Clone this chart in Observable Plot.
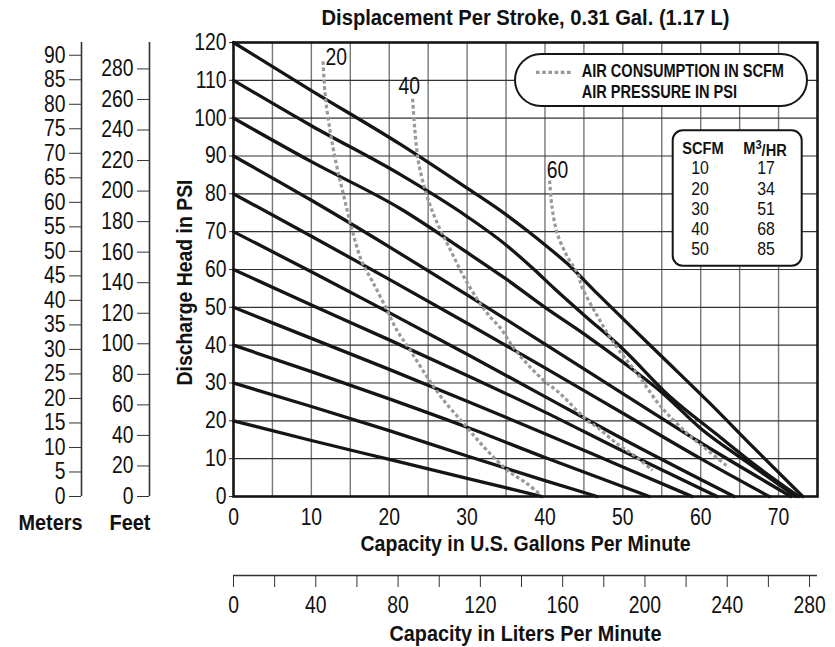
<!DOCTYPE html>
<html><head><meta charset="utf-8">
<script src="https://cdn.jsdelivr.net/npm/d3@7"></script>
<script src="https://cdn.jsdelivr.net/npm/@observablehq/plot@0.6"></script>
<style>
body{margin:0;background:#fff;}
#wrap{position:relative;width:835px;height:647px;overflow:hidden;background:#fff;}
#wrap svg{position:absolute;left:0;top:0;}
</style></head>
<body><div id="wrap"></div>
<script>
const FONT = "'Liberation Sans', Arial, sans-serif";

// Pump performance lines: [gpm, psi] per air pressure (psi)
const pressures = [20, 30, 40, 50, 60, 70, 80, 90, 100, 110, 120];
const head20  = [[0,20],[10,14.8],[20,9.8],[30,4.8],[39.6,0]];
const head30  = [[0,30],[10,23.8],[20,17.4],[30,10.7],[40,4.2],[46.7,0]];
const head40  = [[0,40],[10,33],[20,25.8],[30,18.3],[40,10.3],[53.4,0]];
const head50  = [[0,50],[10,41.8],[20,33.6],[30,25.2],[40,16.6],[50,7.8],[58.9,0]];
const head60  = [[0,60],[10,50.6],[20,41.4],[30,32],[40,22.3],[50,12],[62.1,0]];
const head70  = [[0,70],[10,59.4],[20,48.6],[30,37.6],[40,26.4],[50,15.2],[64.3,0]];
const head80  = [[0,80],[10,68.8],[20,57.4],[30,45.8],[40,34],[50,22],[60,10],[68.8,0]];
const head90  = [[0,90],[10,78.3],[20,66],[30,53.3],[40,40.3],[50,27.2],[60,14.2],[71.6,0]];
const head100 = [[0,100],[10,88.5],[21.5,76],[30,64.5],[35,57.5],[40,50],[45,43],[50,35.5],[55,27.5],[60,18],[66,9],[72.2,0]];
const head110 = [[0,110],[10,98],[21.5,85],[30,74],[35,66.5],[38.6,60],[41.2,55],[45,48],[50,39],[56,26.5],[62,16.5],[67,8.3],[72.6,0]];
const head120 = [[0,120],[10,107.3],[21.5,93],[30,81.5],[35,74.5],[37.7,70.3],[40.3,66],[42.9,61.5],[46.3,54.5],[50,47],[55,37],[61,25],[67,12.5],[73.1,0]];
const heads = [head20, head30, head40, head50, head60, head70, head80, head90, head100, head110, head120];

// Air consumption curves (SCFM): [gpm, psi]
const airLevels = ["20", "40", "60"];
const air20 = [[11.5,115],[11.8,105.6],[12.4,96.7],[13.2,87.9],[14.2,79.1],[15.25,70.3],[16.5,62],[17.8,57],[19.3,51],[21,43.9],[22.7,38.6],[24.9,31.5],[27,25.4],[29.6,19.2],[32.2,13],[35.2,6.9],[37.7,3.4],[39.4,0.5]];
const air40 = [[23,105.1],[23.3,96.7],[23.8,87.9],[24.9,79.1],[26.2,72.1],[27.9,65],[29.6,58],[31.7,50.9],[33,47.4],[34.3,44.5],[35.6,40.4],[37.3,36],[39.4,31.5],[42,27.1],[44.2,22.5],[45.6,19.8],[46.7,18.3],[49.3,13.9],[51.9,10.2],[53.8,6.9]];
const air60 = [[40.6,83.5],[40.9,76.5],[41.6,69.4],[42.9,63.3],[44.2,58.9],[44.8,55.1],[46.7,47.8],[48.2,42.6],[49.7,38.1],[51.7,32.9],[54.4,25],[55.7,21.9],[58.3,16.6],[60.9,12.2],[63.6,7.7]];
const airs = [air20, air40, air60];

// Axes ticks
const gpmTicks = [0, 10, 20, 30, 40, 50, 60, 70];
const gpmGrid = [5, 10, 15, 20, 25, 30, 35, 40, 45, 50, 55, 60, 65, 70];
const psiTicks = [0, 10, 20, 30, 40, 50, 60, 70, 80, 90, 100, 110, 120];
const meterTicks = [0,5,10,15,20,25,30,35,40,45,50,55,60,65,70,75,80,85,90];
const feetTicks = [0,20,40,60,80,100,120,140,160,180,200,220,240,260,280];
const literTicks = [0,20,40,60,80,100,120,140,160,180,200,220,240,260,280];

// Conversion table
const scfmVals = [10, 20, 30, 40, 50];
const m3hrVals = [17, 34, 51, 68, 85];

// Texts
const TITLE = "Displacement Per Stroke, 0.31 Gal. (1.17 L)";
const XTITLE = "Capacity in U.S. Gallons Per Minute";
const YTITLE = "Discharge Head in PSI";
const LTITLE = "Capacity in Liters Per Minute";
const LEG1 = "AIR CONSUMPTION IN SCFM";
const LEG2 = "AIR PRESSURE IN PSI";

// target printed widths of the condensed bold texts
const textWidths = {[TITLE]: 408, [XTITLE]: 330, [YTITLE]: 206, [LTITLE]: 272, "Meters": 64, "Feet": 41};
const CONDENSE = 0.84;

const pumpRows = heads.flatMap((h, i) => h.map(([g, p]) => ({gpm: g, psi: p, air: pressures[i]})));
const airRows = airs.flatMap((a, i) => a.map(([g, p]) => ({gpm: g, psi: p, scfm: airLevels[i]})));

const wrap = document.getElementById("wrap");
const textStyle = {fontFamily: FONT, fontSize: "23px", color: "#111", background: "none", overflow: "visible"};

function condense(svg) {
  svg.querySelectorAll("text").forEach(t => {
    const s = t.textContent;
    const w = t.getComputedTextLength();
    if (!(w > 0)) return;
    const target = textWidths[s] != null ? textWidths[s] : w * CONDENSE;
    t.setAttribute("textLength", target);
    t.setAttribute("lengthAdjust", "spacingAndGlyphs");
  });
}

const airLabelOffsets = [[2.5, -4], [-14, -12], [-3, -10]];
const bold = {fontWeight: "bold", fontSize: 22, lineAnchor: "middle"};

const main = Plot.plot({
  width: 835, height: 647,
  marginLeft: 233, marginRight: 18, marginTop: 42, marginBottom: 151,
  style: textStyle,
  x: {domain: [0, 75]},
  y: {domain: [0, 120]},
  marks: [
    Plot.gridX(gpmGrid, {stroke: "#777", strokeOpacity: 1, strokeWidth: 1.4}),
    Plot.gridY(psiTicks.slice(1, -1), {stroke: "#333", strokeOpacity: 1, strokeWidth: 1.2}),
    Plot.axisY(psiTicks, {tickSize: 4, tickPadding: 3, label: null, stroke: "#333", fontSize: 23}),
    Plot.axisX(gpmTicks, {tickSize: 0, tickPadding: 12, label: null, fontSize: 23}),
    Plot.line(pumpRows, {x: "gpm", y: "psi", z: "air", stroke: "#151515", strokeWidth: 3.3, curve: "monotone-x"}),
    Plot.line(airRows, {x: "gpm", y: "psi", z: "scfm", stroke: "#999", strokeWidth: 3.2, strokeDasharray: "3.6,2.6", strokeLinecap: "butt", curve: "catmull-rom"}),
    Plot.frame({stroke: "#151515", strokeWidth: 2.6}),
    ...airs.map((a, i) => Plot.text([a[0]], {x: d => d[0], y: d => d[1], text: () => airLevels[i], textAnchor: "start", dx: airLabelOffsets[i][0], dy: airLabelOffsets[i][1], fontSize: 23})),
    Plot.text([TITLE], {frameAnchor: "top", dy: -25, ...bold}),
    Plot.text([XTITLE], {frameAnchor: "bottom", dy: 47.5, ...bold}),
    Plot.text([YTITLE], {frameAnchor: "left", dx: -49, dy: 13, rotate: -90, textAnchor: "middle", ...bold})
  ]
});
wrap.appendChild(main);
condense(main);

function sideAxis(ticks, top, lineX, label) {
  const svg = Plot.plot({
    width: lineX + 3, height: 647,
    marginLeft: lineX, marginRight: 3, marginTop: 42, marginBottom: 151,
    style: textStyle,
    x: {domain: [0, 1], axis: null},
    y: {domain: [0, top]},
    marks: [
      Plot.axisY(ticks, {tickSize: 12, tickPadding: 4, label: null, fontSize: 23, stroke: "#333"}),
      Plot.ruleX([0], {stroke: "#333", strokeWidth: 1.6}),
      Plot.text([label], {frameAnchor: "bottom-left", dx: 1, dy: 26, textAnchor: "end", ...bold})
    ]
  });
  wrap.appendChild(svg);
  condense(svg);
}
sideAxis(meterTicks, 92.6, 81, "Meters");
sideAxis(feetTicks, 297.3, 149, "Feet");

// Liters axis (same pixel span as gallons)
const lpg = 3.785;
const liters = Plot.plot({
  width: 835, height: 82,
  marginLeft: 233, marginRight: 18, marginTop: 0, marginBottom: 72,
  style: textStyle,
  x: {domain: [0, 75 * lpg]},
  y: {domain: [0, 1], axis: null},
  marks: [
    Plot.ruleY([0], {stroke: "#333", strokeWidth: 1.6}),
    Plot.axisX(literTicks, {tickSize: 12, tickPadding: 9, label: null, fontSize: 23, stroke: "#333", tickFormat: d => d % 40 === 0 ? d : ""}),
    Plot.text([LTITLE], {frameAnchor: "bottom", dy: 58, ...bold})
  ]
});
liters.style.top = "565px";
wrap.appendChild(liters);
condense(liters);

// Legend overlays (pill + conversion table)
const ov = d3.select(wrap).append("svg").attr("width", 835).attr("height", 647)
  .style("font-family", FONT).style("fill", "#111");
ov.append("rect").attr("x", 515).attr("y", 54).attr("width", 292).attr("height", 52).attr("rx", 26)
  .attr("fill", "#fff").attr("stroke", "#151515").attr("stroke-width", 2);
ov.append("line").attr("x1", 536).attr("x2", 572).attr("y1", 72.3).attr("y2", 72.3)
  .attr("stroke", "#999").attr("stroke-width", 3.2).attr("stroke-dasharray", "3.6,2.6");
function otext(x, y, s, opt = {}) {
  const t = ov.append("text").attr("transform", `translate(${x},${y}) scale(${opt.sx || 0.82},1)`)
    .attr("dy", "0.36em").attr("text-anchor", opt.anchor || "start")
    .attr("font-size", opt.size || 18).attr("font-weight", opt.bold ? "bold" : "normal");
  return t.text(s);
}
otext(581.7, 70.5, LEG1, {bold: true, sx: 0.81});
otext(581.7, 92, LEG2, {bold: true, sx: 0.81});

ov.append("rect").attr("x", 672.7).attr("y", 130.3).attr("width", 129).attr("height", 135.4).attr("rx", 10)
  .attr("fill", "#fff").attr("stroke", "#151515").attr("stroke-width", 2);
otext(703, 148, "SCFM", {bold: true, anchor: "middle", size: 17, sx: 0.86});
const mh = otext(765, 148, "M", {bold: true, anchor: "middle", size: 17, sx: 0.86});
mh.append("tspan").attr("font-size", 13).attr("dy", "-0.4em").text("3");
mh.append("tspan").attr("dy", "0.4em").text("/HR");
scfmVals.forEach((v, i) => {
  const y = 168 + i * 20.1;
  otext(700, y, String(v), {size: 18, anchor: "middle", sx: 0.88});
  otext(766, y, String(m3hrVals[i]), {size: 18, anchor: "middle", sx: 0.88});
});
</script></body></html>
